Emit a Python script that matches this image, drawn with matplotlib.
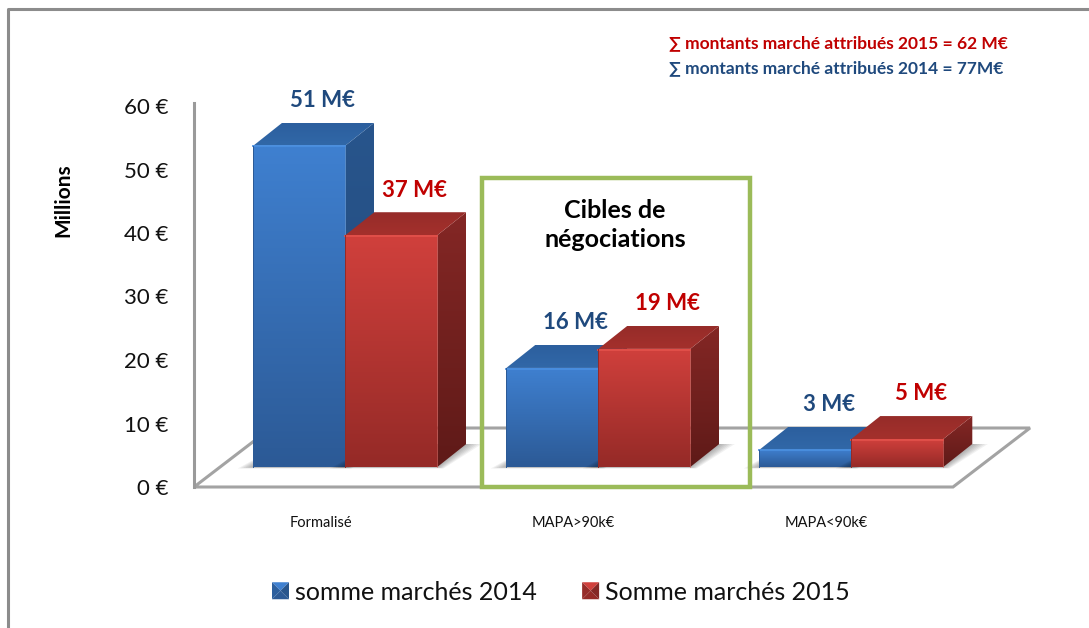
import numpy as np
import matplotlib
matplotlib.use("Agg")
import matplotlib.pyplot as plt
from matplotlib.colors import to_rgb
from matplotlib.legend_handler import HandlerBase
from matplotlib.lines import Line2D
from matplotlib.patches import Patch, Polygon, Rectangle

plt.rcParams["font.family"] = ["Lato", "DejaVu Sans"]

categories = ["Formalisé", "MAPA>90k€", "MAPA<90k€"]
values_2014 = [50.6, 15.6, 2.7]
values_2015 = [36.5, 18.6, 4.4]
labels_2014 = ["51 M€", "16 M€", "3 M€"]
labels_2015 = ["37 M€", "19 M€", "5 M€"]
series_names = ["somme marchés 2014", "Somme marchés 2015"]
yticks = [0, 10, 20, 30, 40, 50, 60]

W, H = 1089, 628
BLUE = {"front": ("#3f80d0", "#2c5a96"), "side": ("#28558c", "#224a7c"), "top": ("#2c5f9e", "#3168a8"), "edge": "#4a8fe0"}
RED = {"front": ("#d0403c", "#952a27"), "side": ("#842725", "#5f1a18"), "top": ("#962c29", "#a4302c"), "edge": "#e2504a"}

# the chart is a fake 3D one, sizes in axis units
BAR_W = 92 / 253
DX, DY = 29 / 253, 23 / 6.35
SHIFT = 0.098
BASE = 20 / 6.35


def fig_xy(x, y):
    return x / W, 1 - y / H


def gradient(ax, verts, top, bottom, zorder):
    verts = np.array(verts)
    colors = np.linspace(to_rgb(top), to_rgb(bottom), 64)[:, None, :]
    im = ax.imshow(colors, aspect="auto", zorder=zorder, interpolation="bilinear",
                   extent=(verts[:, 0].min(), verts[:, 0].max(), verts[:, 1].min(), verts[:, 1].max()))
    im.set_clip_box(ax.figure.bbox)
    im.set_clip_path(Polygon(verts, transform=ax.transData))


def bar3d(ax, x0, h, style, zorder):
    x1 = x0 + BAR_W
    y0, y1 = BASE, BASE + h
    # soft shadow on the floor
    for k in range(1, 7):
        ex = k * 2.6 / 253
        ey = k * 0.25 / 6.35
        ax.add_patch(Polygon([(x0 - ex, y0 - ey), (x1 + ex * 0.4, y0 - ey), (x1 + DX + ex, y0 + DY),
                              (x0 + DX, y0 + DY)], closed=True, fc="black", ec="none", alpha=0.055,
                             zorder=zorder - 0.5, clip_on=False))
    gradient(ax, [(x1, y0), (x1 + DX, y0 + DY), (x1 + DX, y1 + DY), (x1, y1)], *style["side"], zorder)
    gradient(ax, [(x0, y1), (x1, y1), (x1 + DX, y1 + DY), (x0 + DX, y1 + DY)], *style["top"], zorder)
    gradient(ax, [(x0, y0), (x1, y0), (x1, y1), (x0, y1)], *style["front"], zorder)
    ax.plot([x0, x1], [y1 - 0.1, y1 - 0.1], color=style["edge"], lw=1.3, zorder=zorder, clip_on=False)
    ax.plot([x1, x1], [y0, y1], color=style["edge"], lw=0.6, alpha=0.6, zorder=zorder, clip_on=False)
    ax.plot([x0, x0], [y0, y1], color=style["front"][1], lw=0.7, zorder=zorder, clip_on=False)


class BevelHandler(HandlerBase):
    def create_artists(self, legend, orig, xd, yd, width, height, fontsize, trans):
        style = BLUE if orig.get_label() == series_names[0] else RED
        x0, y0 = -xd, -yd + height / 2 - width / 2
        x1, y1 = x0 + width, y0 + width
        xm, ym = (x0 + x1) / 2, (y0 + y1) / 2
        faces = [([(x0, y1), (x1, y1), (xm, ym)], style["front"][0]),
                 ([(x0, y0), (x1, y0), (xm, ym)], style["front"][1]),
                 ([(x0, y0), (x0, y1), (xm, ym)], style["top"][0]),
                 ([(x1, y0), (x1, y1), (xm, ym)], style["side"][0])]
        return [Polygon(v, closed=True, fc=c, ec="none", transform=trans) for v, c in faces]


fig = plt.figure(figsize=(W / 100, H / 100), dpi=100)
ax = fig.add_axes([194 / W, 1 - 487 / H, 759 / W, 381 / H])
ax.set_facecolor("none")
ax.set_xlim(-0.5, 2.5)
ax.set_ylim(0, 60)

# floor
floor_dx, floor_dy = 77 / 253, 59 / 6.35
ax.add_patch(Polygon([(-0.5, 0), (2.5, 0), (2.5 + floor_dx, floor_dy), (-0.5 + floor_dx, floor_dy)], closed=True,
                     fc="white", ec="#a3a3a3", lw=2.2, zorder=1, clip_on=False, joinstyle="miter"))

x = np.arange(len(categories))
for i in x:
    left = x[i] + SHIFT - BAR_W
    bar3d(ax, left, values_2014[i], BLUE, 3 + 2 * i)
    bar3d(ax, left + BAR_W, values_2015[i], RED, 4 + 2 * i)
    ax.annotate(labels_2014[i], (left + BAR_W / 2, BASE + values_2014[i] + DY), xytext=(17, 16),
                textcoords="offset points", ha="center", va="center", fontsize=16, fontweight="bold",
                color="#1f497d", zorder=20, annotation_clip=False)
    ax.annotate(labels_2015[i], (left + 1.5 * BAR_W, BASE + values_2015[i] + DY), xytext=(17, 16),
                textcoords="offset points", ha="center", va="center", fontsize=16, fontweight="bold",
                color="#c00000", zorder=20, annotation_clip=False)

ax.set_xticks(x, categories, fontsize=10.5, color="#111111")
ax.set_yticks(yticks, [f"{v} €" for v in yticks], fontsize=16, color="#111111")
ax.tick_params(axis="x", length=0, pad=21)
ax.tick_params(axis="y", length=0, pad=18.5)
for side in ["top", "right", "bottom"]:
    ax.spines[side].set_visible(False)
ax.spines["left"].set_color("#9a9a9a")
ax.spines["left"].set_linewidth(2.2)
ax.spines["left"].set_bounds(0, 60.5)
ax.set_ylabel("Millions", fontsize=15, fontweight="bold", color="black")
ax.yaxis.set_label_coords((73 - 194) / 759, (487 - 200) / 381)

# green target box
bx, by = fig_xy(482, 487)
fig.add_artist(Rectangle((bx, by), 268 / W, 309 / H, transform=fig.transFigure, fill=False, ec="#9bbb59", lw=3.2,
                         zorder=30))
tx, ty = fig_xy(615, 225)
fig.text(tx, ty, "Cibles de\nnégociations", ha="center", va="center", fontsize=18, fontweight="bold", color="black",
         linespacing=1.35, zorder=31)

# totals
tx, ty = fig_xy(669, 43)
fig.text(tx, ty, "∑ montants marché attribués 2015 = 62 M€", ha="left", va="center", fontsize=12.5, fontweight="bold",
         color="#c00000")
tx, ty = fig_xy(669, 68)
fig.text(tx, ty, "∑ montants marché attribués 2014 = 77M€", ha="left", va="center", fontsize=12.5, fontweight="bold",
         color="#1f497d")

# picture border, only left and top
fig.add_artist(Line2D([7.5 / W, 7.5 / W, 1], [0, 1 - 9 / H, 1 - 9 / H], color="#8c8c8c", lw=2.2))

handles = [Patch(label=series_names[0]), Patch(label=series_names[1])]
leg = fig.legend(handles=handles, labels=series_names, ncol=2, frameon=False, loc="center left",
                 bbox_to_anchor=fig_xy(272, 592), fontsize=18, borderpad=0, borderaxespad=0, handlelength=0.68,
                 handleheight=0.68, handletextpad=0.25, columnspacing=1.8, labelcolor="#111111",
                 handler_map={Patch: BevelHandler()})

fig.savefig("out.png", dpi=100, facecolor="white")
